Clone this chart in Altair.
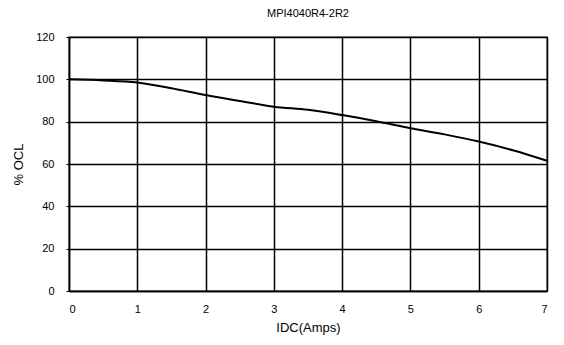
import altair as alt
import pandas as pd

idc = [0, 0.5, 1, 1.5, 2, 2.5, 3, 3.5, 4, 4.5, 5, 5.5, 6, 6.5, 7]
ocl = [100, 99.5, 98.5, 95.8, 92.6, 89.8, 87.1, 85.6, 83.1, 80.2, 76.9, 74.0, 70.6, 66.5, 61.5]

df = pd.DataFrame({"IDC": idc, "OCL": ocl})

FONT = "Liberation Sans"

chart = alt.Chart(df).mark_line(color="black", strokeWidth=2, interpolate="monotone").encode(
    x=alt.X("IDC:Q", title="IDC(Amps)",
            scale=alt.Scale(domain=[0, 7], nice=False),
            axis=alt.Axis(values=[0, 1, 2, 3, 4, 5, 6, 7], format="d", labelFontSize=11,
                          titleFontSize=13, titleFontWeight="normal", labelPadding=12,
                          titlePadding=7, tickSize=0, domainColor="black", domainWidth=1.5,
                          gridColor="black", gridWidth=1.5, gridOpacity=1,
                          labelColor="black", titleColor="black", labelFont=FONT, titleFont=FONT)),
    y=alt.Y("OCL:Q", title="% OCL",
            scale=alt.Scale(domain=[0, 120], nice=False),
            axis=alt.Axis(values=[0, 20, 40, 60, 80, 100, 120], labelFontSize=11,
                          titleFontSize=13, titleFontWeight="normal", labelPadding=12,
                          titlePadding=10, tickSize=3, tickColor="black", domainColor="black",
                          domainWidth=1.5, gridColor="black", gridWidth=1.5, gridOpacity=1,
                          labelColor="black", titleColor="black", labelFont=FONT, titleFont=FONT)),
).properties(
    width=478, height=254,
    title=alt.TitleParams("MPI4040R4-2R2", fontSize=11, fontWeight="normal", font=FONT,
                          color="black", offset=12, anchor="middle"),
    autosize="none",
    padding={"left": 61, "top": 29, "right": 9, "bottom": 46},
).configure_view(stroke="#999999", strokeWidth=2)

chart.save("out.html", embed_options={"renderer": "svg", "actions": False})
